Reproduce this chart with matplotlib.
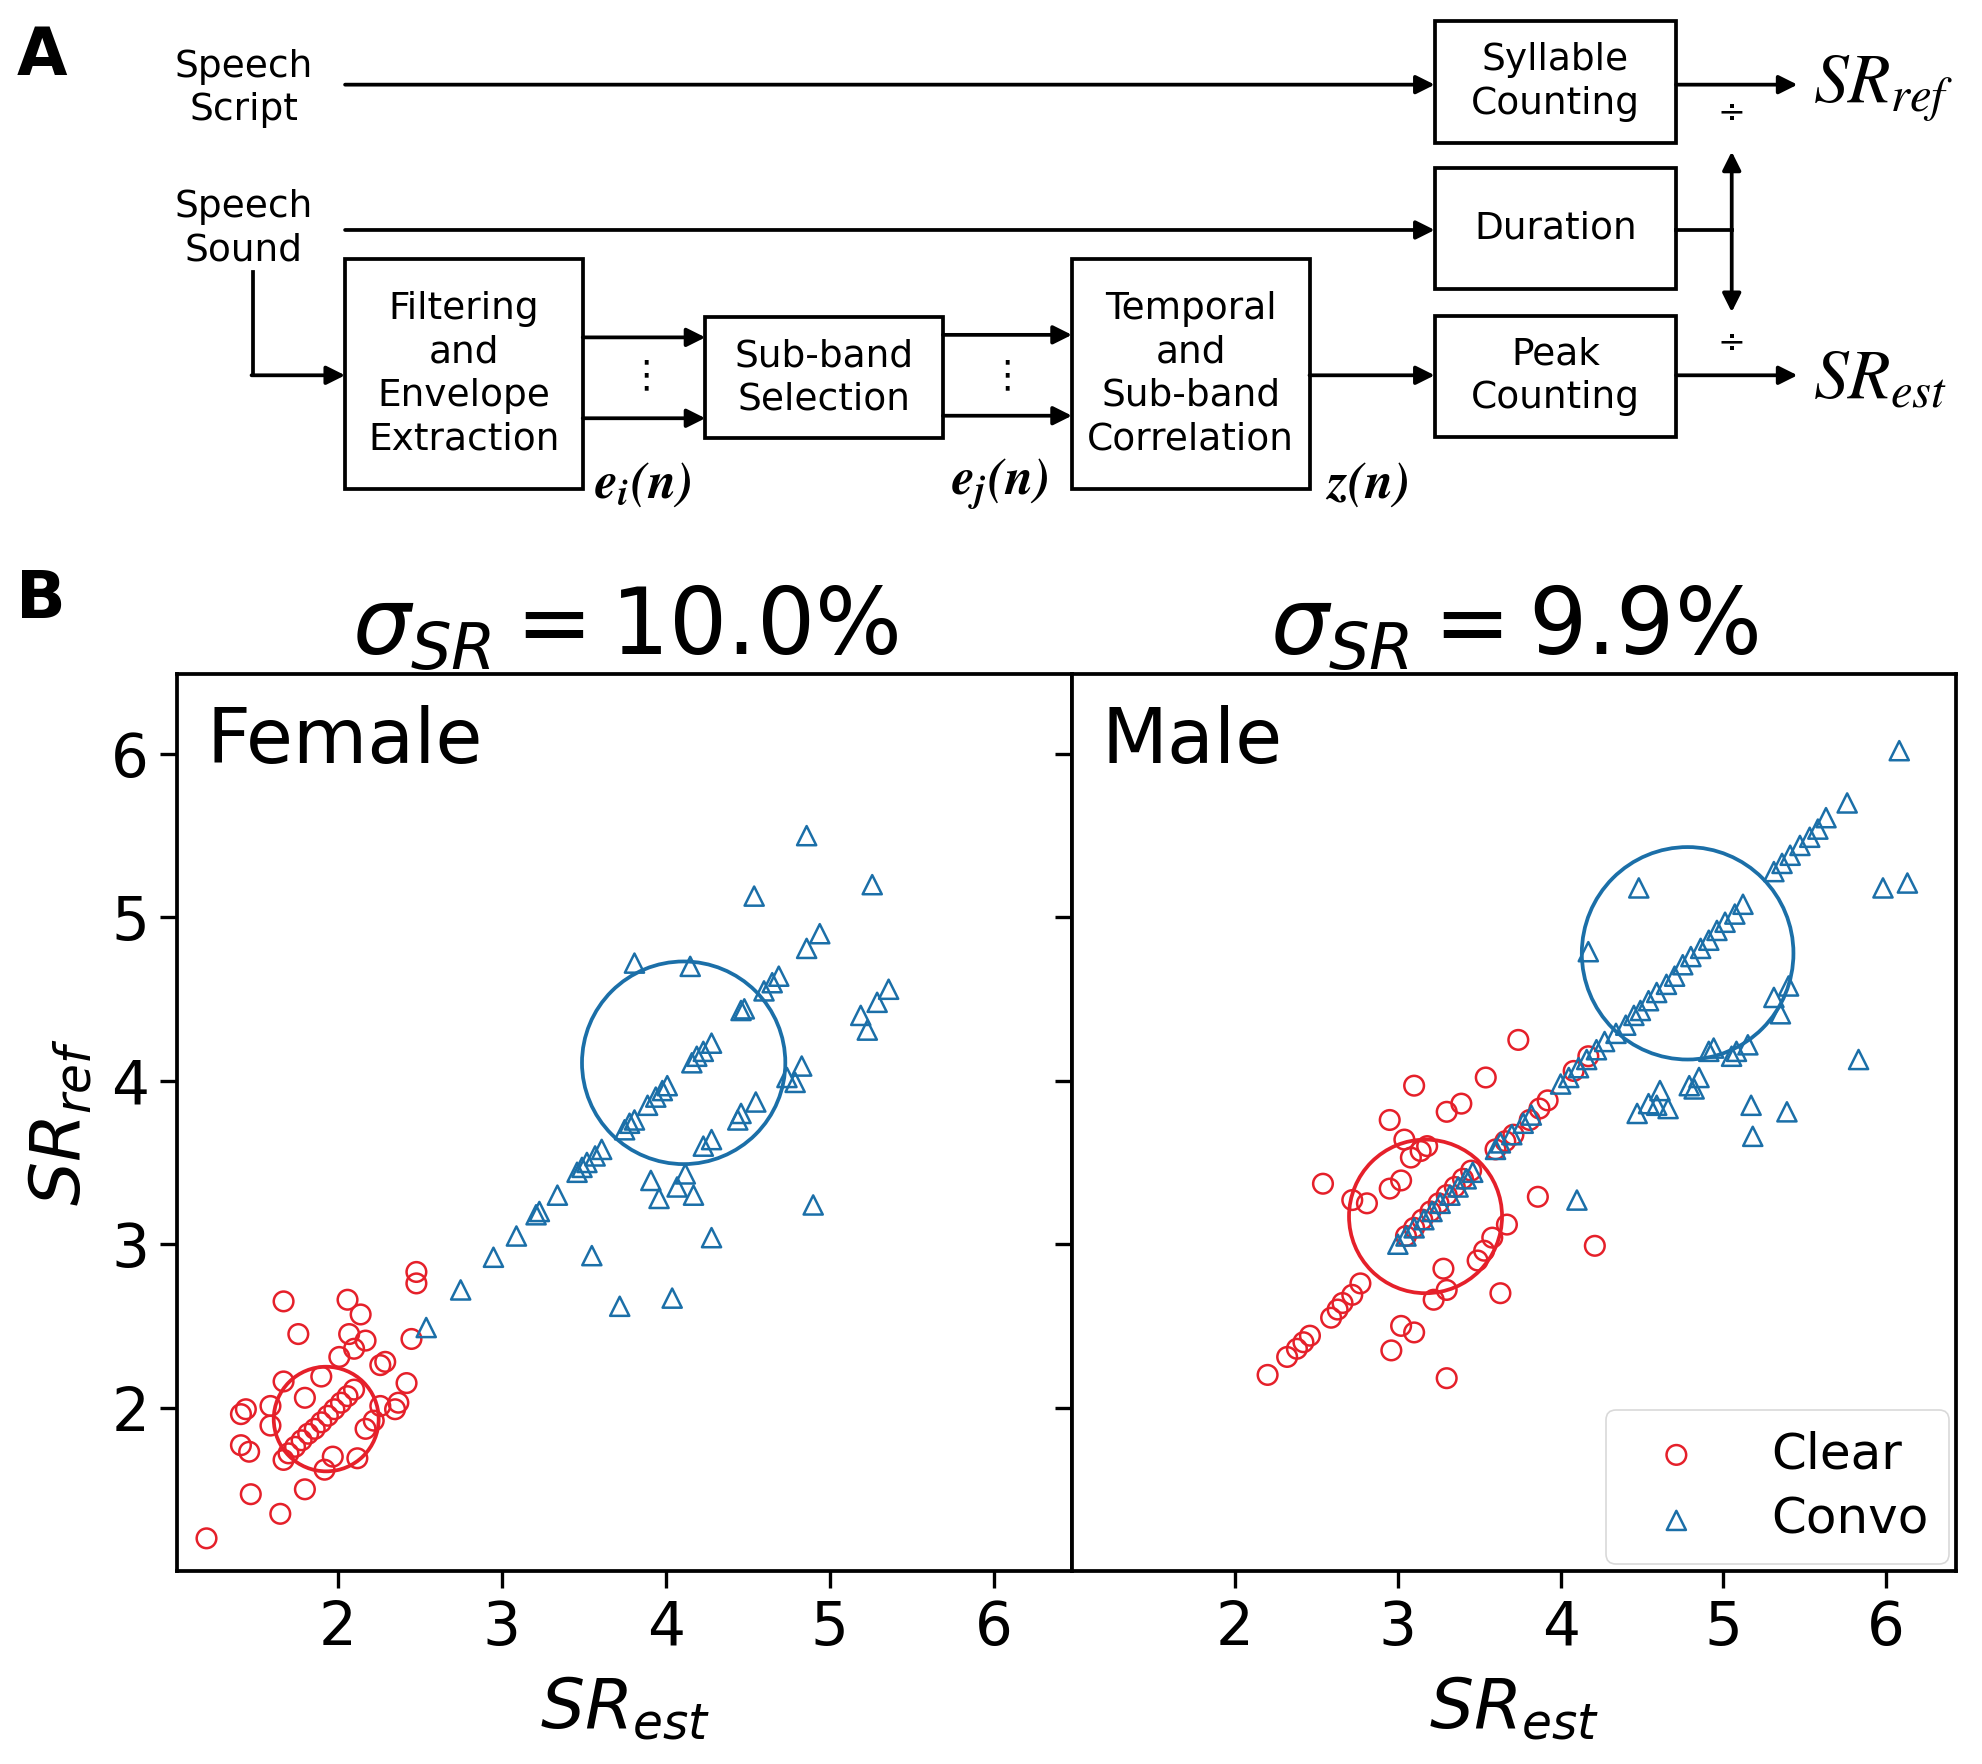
import numpy as np
import matplotlib
matplotlib.use("Agg")
import matplotlib.pyplot as plt
from matplotlib.patches import Rectangle, Circle

# ---- data (x = SR_est, y = SR_ref) ----
female_clear_x = [1.20, 1.65, 1.47, 1.80, 1.92, 2.12, 1.97, 1.67, 1.41, 1.46, 1.41, 1.44, 1.59, 1.59, 1.67, 1.80, 1.90,
                  1.70, 1.74, 1.78, 1.82, 1.86, 1.90, 1.94, 1.98, 2.02, 2.06, 2.10,
                  2.17, 2.22, 2.26, 2.37, 2.35, 2.42, 2.26, 2.29, 2.17, 2.10, 2.01, 2.07, 2.14, 2.06, 1.76, 1.67, 2.45, 2.48, 2.48]
female_clear_y = [1.20, 1.35, 1.47, 1.50, 1.62, 1.69, 1.70, 1.68, 1.77, 1.73, 1.96, 1.99, 2.01, 1.89, 2.16, 2.06, 2.19,
                  1.72, 1.76, 1.80, 1.84, 1.87, 1.91, 1.95, 1.99, 2.03, 2.07, 2.11,
                  1.87, 1.92, 2.01, 2.03, 1.99, 2.15, 2.26, 2.28, 2.41, 2.36, 2.31, 2.45, 2.57, 2.66, 2.45, 2.65, 2.42, 2.83, 2.76]

female_convo_x = [2.54, 2.75, 2.95, 3.09, 3.21, 3.23, 3.34, 3.46, 3.49, 3.52, 3.57, 3.61, 3.75, 3.78, 3.81,
                  3.89, 3.94, 3.98, 4.01, 4.16, 4.19, 4.23, 4.28, 4.46, 4.48, 4.60, 4.65, 4.69,
                  3.81, 4.15, 4.54, 4.86, 5.26, 4.94, 4.86, 5.36, 5.29, 5.19, 5.23, 4.83, 4.79, 4.74, 4.55, 4.46, 4.44,
                  4.28, 4.23, 3.91, 4.12, 4.07, 4.17, 3.96, 4.90, 4.28, 3.55, 3.72, 4.04]
female_convo_y = [2.49, 2.72, 2.92, 3.05, 3.18, 3.20, 3.30, 3.44, 3.47, 3.50, 3.54, 3.58, 3.70, 3.74, 3.76,
                  3.85, 3.90, 3.94, 3.97, 4.11, 4.15, 4.18, 4.23, 4.43, 4.44, 4.55, 4.60, 4.64,
                  4.72, 4.70, 5.13, 5.50, 5.20, 4.90, 4.81, 4.56, 4.48, 4.40, 4.31, 4.09, 3.99, 4.02, 3.87, 3.80, 3.76,
                  3.64, 3.60, 3.39, 3.43, 3.35, 3.30, 3.28, 3.24, 3.04, 2.93, 2.62, 2.67]

male_clear_x = [2.20, 2.32, 2.38, 2.42, 2.46, 2.59, 2.63, 2.66, 2.72, 2.77,
                2.96, 3.02, 3.10, 3.30, 3.22, 3.30, 3.28, 3.49, 3.53, 3.58, 3.67, 3.63, 3.86, 4.21,
                2.54, 2.72, 2.81, 2.95, 3.02, 2.95, 3.10, 3.04, 3.08, 3.14, 3.18, 3.30, 3.39, 3.54, 3.74,
                3.05, 3.10, 3.15, 3.20, 3.25, 3.30, 3.35, 3.40, 3.45,
                3.60, 3.66, 3.71, 3.81, 3.87, 3.92, 4.08, 4.17]
male_clear_y = [2.20, 2.31, 2.36, 2.40, 2.44, 2.55, 2.60, 2.64, 2.69, 2.76,
                2.35, 2.50, 2.46, 2.18, 2.66, 2.72, 2.85, 2.90, 2.96, 3.04, 3.12, 2.70, 3.29, 2.99,
                3.37, 3.27, 3.25, 3.34, 3.39, 3.76, 3.97, 3.64, 3.53, 3.57, 3.60, 3.81, 3.86, 4.02, 4.25,
                3.05, 3.10, 3.15, 3.20, 3.25, 3.30, 3.35, 3.40, 3.45,
                3.58, 3.63, 3.67, 3.76, 3.83, 3.88, 4.06, 4.15]

male_convo_x = [3.00, 3.05, 3.10, 3.16, 3.21, 3.26, 3.32, 3.37, 3.42, 3.46,
                3.60, 3.63, 3.70, 3.77, 3.82,
                4.00, 4.05, 4.11, 4.16, 4.22, 4.27, 4.34, 4.40, 4.45, 4.49, 4.54, 4.59, 4.65, 4.70, 4.75,
                4.80, 4.86, 4.91, 4.96, 5.01, 5.07, 5.12,
                5.31, 5.36, 5.41, 5.47, 5.53, 5.58, 5.63, 5.76,
                6.08, 5.98, 6.13, 4.48, 4.17, 5.40, 5.31, 5.35, 5.08, 5.15, 5.05, 4.91, 4.94, 5.83,
                4.82, 4.85, 4.79, 4.61, 4.66, 4.59, 4.54, 4.47, 5.17, 5.39, 5.18, 4.10]
male_convo_y = [3.00, 3.05, 3.10, 3.15, 3.20, 3.25, 3.30, 3.35, 3.40, 3.44,
                3.58, 3.62, 3.67, 3.74, 3.79,
                3.98, 4.02, 4.08, 4.13, 4.19, 4.24, 4.29, 4.34, 4.40, 4.43, 4.49, 4.54, 4.59, 4.64, 4.71,
                4.76, 4.81, 4.86, 4.92, 4.97, 5.02, 5.08,
                5.28, 5.33, 5.38, 5.44, 5.49, 5.54, 5.61, 5.70,
                6.02, 5.18, 5.21, 5.18, 4.79, 4.58, 4.51, 4.41, 4.18, 4.22, 4.15, 4.18, 4.20, 4.13,
                3.95, 4.02, 3.97, 3.94, 3.83, 3.85, 3.86, 3.80, 3.85, 3.81, 3.66, 3.27]

# summary circles (center, radius) per panel: [clear, convo]
female_circle_center = [1.93, 4.11]
female_circle_radius = [0.32, 0.62]
male_circle_center = [3.17, 4.78]
male_circle_radius = [0.47, 0.65]

panel_names = ["Female", "Male"]
sigma_sr = [10.0, 9.9]

RED = "#e5202a"
BLUE = "#1b6fa8"

fig = plt.figure(figsize=(19.82, 17.64), dpi=100)

# ---------------- panel A: block diagram (coords in a 1568 x 1396 grid) ----------------
dg = fig.add_axes([0, 0, 1, 1])
dg.set_xlim(0, 1568)
dg.set_ylim(1396, 0)
dg.axis("off")

LW = 2.7
FS = 27

def box(x0, y0, x1, y1, txt):
    dg.add_patch(Rectangle((x0, y0), x1 - x0, y1 - y0, fill=False, lw=LW, ec="black"))
    dg.text((x0 + x1) / 2, (y0 + y1) / 2, txt, ha="center", va="center",
            fontsize=FS, linespacing=1.27)

def arrow(x0, y0, x1, y1, style="-|>"):
    dg.annotate("", xy=(x1, y1), xytext=(x0, y0),
                arrowprops=dict(arrowstyle=style, lw=LW, color="black",
                                mutation_scale=28, shrinkA=0, shrinkB=0))

dg.text(13, 45, "A", fontsize=47, fontweight="bold", va="center", ha="left")
dg.text(13, 475, "B", fontsize=47, fontweight="bold", va="center", ha="left")

dg.text(193, 70, "Speech\nScript", ha="center", va="center", fontsize=FS, linespacing=1.27)
dg.text(193, 181, "Speech\nSound", ha="center", va="center", fontsize=FS, linespacing=1.27)

box(1135, 17, 1326, 113, "Syllable\nCounting")
box(1135, 133, 1326, 229, "Duration")
box(1135, 250, 1326, 346, "Peak\nCounting")
box(273, 205, 461, 387, "Filtering\nand\nEnvelope\nExtraction")
box(558, 251, 746, 347, "Sub-band\nSelection")
box(848, 205, 1036, 387, "Temporal\nand\nSub-band\nCorrelation")

arrow(273, 67, 1135, 67)
arrow(273, 182, 1135, 182)
dg.plot([200, 200], [215, 297], color="black", lw=LW)
arrow(199, 297, 273, 297)
arrow(461, 267, 558, 267)
arrow(461, 331, 558, 331)
arrow(746, 265, 848, 265)
arrow(746, 329, 848, 329)
arrow(1036, 297, 1135, 297)
arrow(1326, 67, 1422, 67)
arrow(1326, 297, 1422, 297)
dg.plot([1326, 1370], [182, 182], color="black", lw=LW)
arrow(1370, 182, 1370, 120)
arrow(1370, 182, 1370, 247)

dg.text(511, 298, "⋮", ha="center", va="center", fontsize=FS)
dg.text(797, 298, "⋮", ha="center", va="center", fontsize=FS)
dg.text(1370, 90, "÷", ha="center", va="center", fontsize=24)
dg.text(1370, 272, "÷", ha="center", va="center", fontsize=24)

dg.text(1434, 70, r"$SR_{ref}$", ha="left", va="center", fontsize=50, math_fontfamily="stix")
dg.text(1434, 300, r"$SR_{est}$", ha="left", va="center", fontsize=50, math_fontfamily="stix")
for xx, lab in [(470, r"$\mathbfit{e_i(n)}$"), (752, r"$\mathbfit{e_j(n)}$"), (1048, r"$\mathbfit{z(n)}$")]:
    dg.text(xx, 383, lab, ha="left", va="center", fontsize=37, math_fontfamily="stix")

# ---------------- panel B: scatter plots ----------------
axF = fig.add_axes([0.0893, 0.1094, 0.4517, 0.5086])
axM = fig.add_axes([0.541, 0.1094, 0.446, 0.5086], sharey=axF)

panels = [
    (axF, female_clear_x, female_clear_y, female_convo_x, female_convo_y,
     female_circle_center, female_circle_radius, (1.02, 6.48)),
    (axM, male_clear_x, male_clear_y, male_convo_x, male_convo_y,
     male_circle_center, male_circle_radius, (1.0, 6.43)),
]

for i, (ax, cx, cy, vx, vy, cc, cr, xl) in enumerate(panels):
    ax.scatter(cx, cy, s=200, marker="o", facecolors="none", edgecolors=RED,
               linewidths=1.8, label="Clear", zorder=3)
    ax.scatter(vx, vy, s=190, marker="^", facecolors="none", edgecolors=BLUE,
               linewidths=1.8, label="Convo", zorder=3)
    ax.add_patch(Circle((cc[0], cc[0]), cr[0], fill=False, ec=RED, lw=2.7, zorder=4))
    ax.add_patch(Circle((cc[1], cc[1]), cr[1], fill=False, ec=BLUE, lw=2.7, zorder=4))
    ax.set_xlim(*xl)
    ax.set_ylim(1.0, 6.49)
    ax.set_xticks([2, 3, 4, 5, 6])
    ax.set_yticks([2, 3, 4, 5, 6])
    ax.tick_params(direction="out", length=12, width=2.4, labelsize=43, pad=8)
    for sp in ax.spines.values():
        sp.set_linewidth(2.7)
    ax.set_xlabel(r"$SR_{est}$", fontsize=50, labelpad=12)
    ax.set_title(r"$\sigma_{SR} = %.1f\%%$" % sigma_sr[i], fontsize=66, pad=12)
    ax.text(0.033, 0.965, panel_names[i], transform=ax.transAxes, fontsize=55,
            ha="left", va="top")

axF.set_ylabel(r"$SR_{ref}$", fontsize=50, labelpad=12)
axM.tick_params(labelleft=False)

leg = axM.legend(loc="lower right", fontsize=36, frameon=True, handletextpad=0.9,
                 borderpad=0.4, labelspacing=0.35, borderaxespad=0.15, handlelength=2.0)
leg.get_frame().set_edgecolor("#d0d0d0")
leg.get_frame().set_linewidth(1.2)

fig.savefig("out.png", dpi=100)
